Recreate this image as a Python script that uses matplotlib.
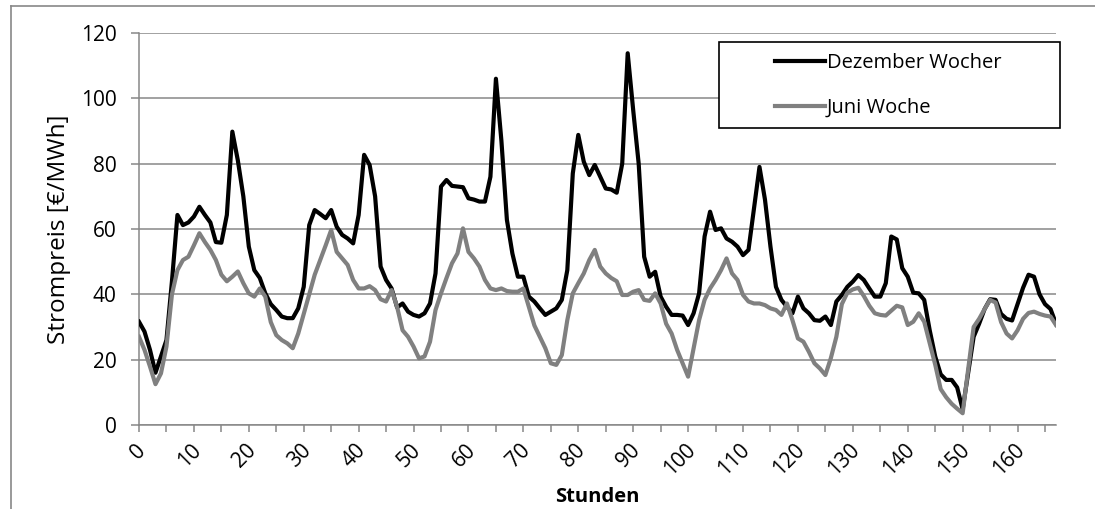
import matplotlib.pyplot as plt
from matplotlib.ticker import MultipleLocator
from matplotlib.lines import Line2D
import matplotlib.transforms as mtransforms

plt.rcParams['font.family'] = ['Open Sans', 'DejaVu Sans']

# hourly prices, hour 0..167
dezember = [31.6, 28.6, 23, 16, 21, 26, 44, 64.3, 61.2, 62, 63.8, 66.8, 64.3, 62, 56, 55.8, 64.3, 89.8, 81, 70,
            54.6, 47.4, 45, 40.3, 37, 35.2, 33.2, 32.7, 32.7, 35.7, 42.3, 61.2, 65.8, 64.6, 63.3, 65.8, 60.7, 58.2, 57.1, 55.6,
            64.3, 82.7, 79.6, 70, 48.5, 44.4, 41.8, 36, 37.2, 34.7, 33.7, 33.2, 34.2, 37.2, 46.4, 73, 75, 73.2, 73, 72.8,
            69.4, 69, 68.4, 68.4, 76, 106, 87, 62.8, 52.5, 45.4, 45.4, 39.3, 37.8, 35.7, 33.7, 34.7, 35.7, 38.3, 47.4, 77,
            88.8, 80.6, 76.5, 79.6, 76, 72.4, 72.1, 71.1, 80, 113.8, 96.4, 80, 51.5, 45.4, 46.9, 39.3, 36.2, 33.7, 33.7, 33.5,
            30.6, 34.2, 40.3, 57.7, 65.3, 59.7, 60.2, 57.1, 56.1, 54.6, 52, 53.6, 66.3, 79, 69, 54.6, 42.3, 38.3, 36.2, 34.2,
            39.3, 35.7, 34.2, 32.1, 31.9, 33.2, 30.6, 37.8, 39.8, 42.3, 43.9, 45.9, 44.4, 41.8, 39.3, 39.3, 43.4, 57.7, 56.8, 48,
            45.4, 40.5, 40.3, 38.3, 29, 21, 15.5, 13.8, 13.8, 11.5, 4.8, 16, 27, 31, 35.5, 38.5, 38.3, 34, 32.5, 32,
            37, 42, 46, 45.4, 40, 37, 35.5, 31]
juni = [27, 23, 17.9, 12.5, 15.8, 24, 40, 47.4, 50.5, 51.5, 55, 58.7, 56, 53.6, 50.5, 46, 44, 45.4, 47, 43.4,
        40.3, 39.3, 41.8, 39.3, 31.5, 27.5, 26, 25, 23.5, 28, 34, 40, 46, 50.5, 55, 59.7, 53, 51, 49, 44.4,
        41.8, 41.8, 42.5, 41.3, 38.5, 37.8, 41.3, 36.2, 29, 27, 24, 20.4, 21, 25.5, 35.2, 40.3, 45, 49.5, 52.5, 60.2,
        53, 51, 48.5, 44.4, 41.8, 41.3, 41.8, 41, 40.8, 40.8, 41.8, 36.2, 30.5, 27, 23.5, 18.9, 18.4, 21.4, 32.1, 40.3,
        43.4, 46.4, 50.5, 53.6, 48.5, 46.4, 45, 44, 39.8, 39.8, 40.8, 41.3, 38.3, 38, 40.3, 37.2, 31, 28, 23, 18.9,
        14.8, 23.5, 32.1, 38.3, 41.8, 44.4, 47.4, 51, 46.4, 44.4, 39.8, 37.8, 37.2, 37.2, 36.7, 35.7, 35.2, 33.7, 37.2, 32.1,
        26.5, 25.5, 22.4, 18.9, 17.3, 15.3, 20.5, 27, 37, 40.5, 41.5, 42, 39.5, 36.5, 34.2, 33.7, 33.5, 35, 36.5, 36,
        30.6, 31.6, 34.2, 31.6, 25, 18.5, 11, 8.5, 6.5, 5, 3.6, 17, 30, 32.5, 35.5, 38.3, 37.5, 31.5, 28, 26.5,
        29, 32.5, 34.3, 34.7, 34, 33.5, 33.2, 30.6]
stunden = list(range(len(dezember)))
labels = ['Dezember Wocher', 'Juni Woche']

grau = '#878787'
W, H = 1095, 509
fig = plt.figure(figsize=(W / 100, H / 100), dpi=100)
ax = fig.add_axes([139 / W, 1 - 425 / H, (1056 - 139) / W, (425 - 33) / H])

# outer chart border (left and top only visible)
fig.add_artist(Line2D([11 / W, 11 / W], [0, 1 - 6 / H], color=grau, lw=1.2))
fig.add_artist(Line2D([11 / W, 1], [1 - 6 / H, 1 - 6 / H], color=grau, lw=1.2))

ax.plot(stunden, dezember, color='black', lw=3, label=labels[0], zorder=3)
ax.plot(stunden, juni, color='#808080', lw=3, label=labels[1], zorder=3)

ax.set_xlim(0, 167)
ax.set_ylim(0, 120)
ax.set_yticks(range(0, 121, 20))
ax.xaxis.set_major_locator(MultipleLocator(10))
ax.xaxis.set_minor_locator(MultipleLocator(5))
ax.set_xticks(range(0, 161, 10))
ax.grid(axis='y', color=grau, lw=1.1, zorder=1)
ax.set_axisbelow(True)
for s in ['top', 'right']:
    ax.spines[s].set_visible(False)
for s in ['left', 'bottom']:
    ax.spines[s].set_color(grau)
    ax.spines[s].set_linewidth(1.1)

ax.tick_params(axis='y', length=6, width=1.1, color=grau, labelsize=15, pad=10)
ax.tick_params(axis='x', which='both', length=5, width=1.1, color=grau, labelsize=15, pad=11)
off = mtransforms.ScaledTranslation(4 / 100, 0, fig.dpi_scale_trans)
for lab in ax.get_xticklabels():
    lab.set_rotation(45)
    lab.set_ha('right')
    lab.set_va('center')
    lab.set_rotation_mode('anchor')
    lab.set_transform(lab.get_transform() + off)

fig.text(59 / W, 1 - 229 / H, 'Strompreis [€/MWh]', rotation=90, ha='center', va='center', fontsize=17.5)
fig.text(597 / W, 1 - 497 / H, 'Stunden', ha='center', va='center', fontsize=14.5, fontweight='bold')

# legend box
ax.add_patch(plt.Rectangle(((719 - 139) / 917, (425 - 128) / 392), (1060 - 719) / 917, (128 - 42) / 392,
                           transform=ax.transAxes, facecolor='white', edgecolor='black', lw=1.2,
                           clip_on=False, zorder=4))
leg = ax.legend(loc='center', bbox_to_anchor=(0.817, 0.866), frameon=False, fontsize=14.5,
                handlelength=2.45, handletextpad=0.1, labelspacing=1.25, borderpad=0)
leg.set_zorder(5)

fig.savefig('out.png', dpi=100)
